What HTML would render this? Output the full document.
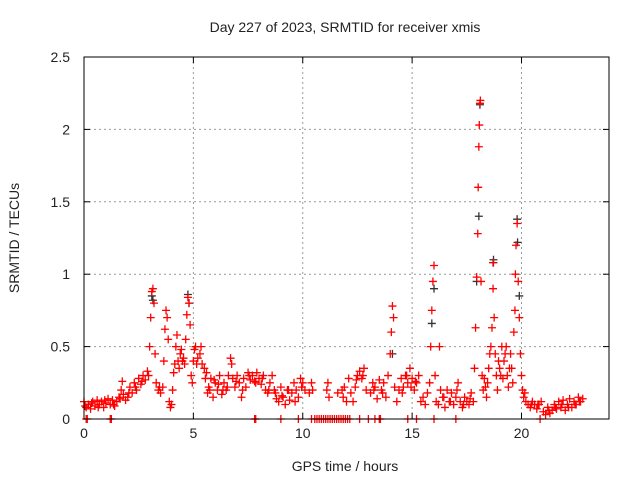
<!DOCTYPE html>
<html><head><meta charset="utf-8"><style>
body{margin:0;background:#fff;}
svg text{font-family:"Liberation Sans",sans-serif;fill:#222;}
</style></head><body>
<svg id="chart" width="640" height="480" xmlns="http://www.w3.org/2000/svg">
<rect width="640" height="480" fill="#fff"/>
<text x="345" y="32" font-size="14" text-anchor="middle">Day 227 of 2023, SRMTID for receiver xmis</text>
<text x="345" y="471" font-size="14" text-anchor="middle">GPS time / hours</text>
<text x="0" y="0" font-size="14" text-anchor="middle" transform="translate(19,238) rotate(-90)">SRMTID / TECUs</text>
<g id="grid"></g>
<g id="ticks"></g>
<g id="blk"></g>
<g id="red"></g>
<rect x="84" y="57" width="525" height="362" fill="none" stroke="#000" stroke-width="1"/>
</svg>
<script>
const xTicks=[0,5,10,15,20];
const yTicks=[0,0.5,1,1.5,2,2.5];
const yTickLabels=["0","0.5","1","1.5","2","2.5"];
const hours=[0,0.1,0.2,0.3,0.4,0.5,0.6,0.7,0.8,0.9,1.0,1.1,1.2,1.3,1.4,1.5,1.6,1.7,1.75,1.8,1.9,2.0,2.1,2.2,2.3,2.4,2.5,2.6,2.7,2.8,2.9,3.0,3.05,3.1,3.15,3.2,3.25,3.3,3.4,3.5,3.6,3.65,3.7,3.75,3.8,3.85,3.9,3.95,4.0,4.05,4.1,4.15,4.2,4.25,4.3,4.35,4.4,4.5,4.6,4.65,4.7,4.75,4.8,4.85,4.9,4.95,5.0,5.05,5.1,5.2,5.3,5.4,5.5,5.6,5.65,5.7,5.8,5.9,6.0,6.1,6.2,6.3,6.4,6.5,6.6,6.7,6.75,6.8,6.9,7.0,7.1,7.2,7.3,7.4,7.5,7.6,7.7,7.8,7.9,8.0,8.1,8.2,8.3,8.4,8.5,8.6,8.7,8.8,8.9,9.0,9.1,9.2,9.3,9.4,9.5,9.6,9.7,9.8,9.9,10.0,10.1,10.3,10.4,10.45,11.1,11.15,11.2,11.6,11.8,11.85,11.9,12.0,12.1,12.2,12.3,12.4,12.5,12.6,12.7,12.8,12.9,13.1,13.2,13.3,13.4,13.5,13.6,13.7,13.8,13.9,14.0,14.05,14.1,14.15,14.2,14.3,14.4,14.5,14.6,14.7,14.8,14.9,15.0,15.1,15.2,15.3,15.4,15.5,15.6,15.7,15.8,15.85,15.9,15.95,16.0,16.05,16.1,16.2,16.25,16.3,16.4,16.5,16.6,16.7,16.8,16.9,17.0,17.1,17.2,17.3,17.4,17.5,17.6,17.7,17.8,17.85,17.9,17.95,18.0,18.02,18.05,18.07,18.1,18.12,18.15,18.2,18.25,18.3,18.4,18.5,18.55,18.6,18.65,18.7,18.72,18.75,18.8,18.85,18.9,19.0,19.1,19.15,19.2,19.3,19.35,19.4,19.5,19.55,19.6,19.65,19.7,19.72,19.75,19.8,19.85,19.9,19.95,20.0,20.05,20.1,20.2,20.3,20.4,20.5,20.6,20.7,20.8,20.9,21.0,21.1,21.2,21.3,21.4,21.5,21.6,21.7,21.8,21.9,22.0,22.1,22.2,22.3,22.4,22.5,22.6,22.7,22.8];
const tec=[.12,.08,.1,.07,.12,.09,.13,.1,.12,.08,.11,.14,.1,.13,.09,.12,.15,.2,.26,.17,.13,.15,.22,.18,.25,.2,.28,.24,.3,.27,.33,.5,.7,.88,.9,.8,.45,.25,.2,.18,.22,.4,.62,.75,.7,.55,.12,.08,.1,.2,.32,.38,.5,.58,.4,.35,.45,.4,.38,.55,.72,.84,.8,.65,.3,.25,.4,.48,.5,.42,.45,.38,.35,.32,.18,.22,.28,.15,.25,.2,.3,.17,.25,.2,.3,.42,.38,.28,.22,.3,.25,.15,.28,.22,.32,.27,.3,.26,.32,.28,.24,.3,.2,.18,.25,.3,.2,.14,.12,.22,.15,.1,.2,.13,.18,.25,.2,.15,.28,.25,.2,.18,.25,.2,.2,.25,.15,.18,.2,.15,.22,.12,.28,.18,.12,.22,.3,.33,.28,.35,.2,.18,.25,.22,.14,.27,.2,.25,.15,.3,.45,.6,.78,.7,.22,.12,.2,.28,.22,.3,.25,.35,.28,.2,.25,.3,.12,.15,.1,.18,.25,.5,.75,.95,1.06,.3,.12,.1,.5,.2,.15,.08,.2,.12,.18,.1,.15,.25,.12,.08,.15,.12,.1,.18,.12,.35,.63,.98,1.28,1.6,1.88,2.03,2.18,2.2,.95,.3,.2,.28,.15,.35,.45,.5,.63,.9,1.08,.7,.45,.3,.2,.35,.5,.28,.4,.5,.3,.22,.45,.35,.25,.6,.75,1.0,1.2,1.35,.95,.7,.45,.3,.2,.15,.12,.1,.08,.12,.1,.07,.1,.12,.05,.03,.08,.04,.06,.1,.07,.12,.08,.13,.06,.1,.14,.08,.12,.1,.15,.12,.14];
const extraHours=[0.05,0.35,0.65,0.95,1.35,1.65,2.05,2.35,2.65,2.95,3.45,4.45,4.55,5.15,5.35,5.55,5.75,5.95,6.15,6.35,6.55,6.95,7.25,7.55,7.85,8.15,8.45,8.75,9.05,9.35,9.65,9.95,12.45,12.75,13.25,13.65,14.55,14.75,14.95,15.15,16.45,16.75,17.05,17.35,17.65,18.35,18.45,18.95,19.05,19.25,19.45,20.15,20.45,20.75,21.25,21.55,21.85,22.15,22.45,22.65];
const extraTec=[.09,.11,.08,.13,.1,.14,.18,.22,.26,.3,.22,.48,.42,.38,.5,.28,.2,.27,.24,.2,.22,.26,.2,.3,.25,.28,.2,.18,.16,.2,.12,.22,.27,.3,.2,.18,.18,.3,.22,.26,.15,.12,.2,.1,.14,.22,.25,.4,.3,.45,.35,.18,.1,.1,.06,.08,.1,.08,.1,.12];
const zeroHours=[0.1,0.15,1.2,1.25,7.8,7.85,9.0,9.8,10.4,10.55,10.65,10.75,10.85,10.95,11.05,11.15,11.25,11.35,11.45,11.55,11.65,11.75,11.85,11.95,12.05,12.15,12.6,13.0,13.3,13.5,13.55,14.8,15.2,16.0,17.0,20.85];
const blkHours=[3.1,3.15,4.75,4.8,14.1,15.9,16.0,17.95,18.05,18.1,18.7,18.72,19.8,19.82,19.9];
const blkTec=[.85,.82,.86,.8,.45,.66,.9,.95,1.4,2.17,1.08,1.1,1.38,1.22,.85];
const X0=84,X1=609,Y0=419,Y1=57;
const sx=h=>X0+(h/24)*(X1-X0);
const sy=v=>Y0-(v/2.5)*(Y0-Y1);
const NS="http://www.w3.org/2000/svg";
function mk(tag,attrs,parent){const e=document.createElementNS(NS,tag);for(const k in attrs)e.setAttribute(k,attrs[k]);parent.appendChild(e);return e;}
const grid=document.getElementById('grid'),ticks=document.getElementById('ticks');
xTicks.forEach(t=>{const x=sx(t);
 if(t>0){const g=mk('line',{x1:x,x2:x,y1:Y1,y2:Y0,stroke:'#999','stroke-dasharray':'2,3'},grid);
 
 }
 mk('line',{x1:x,x2:x,y1:Y0,y2:Y0-6,stroke:'#000'},ticks);
 mk('line',{x1:x,x2:x,y1:Y1,y2:Y1+6,stroke:'#000'},ticks);
 const l=mk('text',{x:x,y:Y0+19,'font-size':14,'text-anchor':'middle'},ticks);l.textContent=t;
 
 
});
yTicks.forEach((t,i)=>{const y=sy(t);
 if(t>0&&t<2.5){const g=mk('line',{x1:X0,x2:X1,y1:y,y2:y,stroke:'#999','stroke-dasharray':'2,3'},grid);
 
 }
 mk('line',{x1:X0,x2:X0+6,y1:y,y2:y,stroke:'#000'},ticks);
 mk('line',{x1:X1,x2:X1-6,y1:y,y2:y,stroke:'#000'},ticks);
 const l=mk('text',{x:X0-14,y:y+5,'font-size':14,'text-anchor':'end'},ticks);l.textContent=yTickLabels[i];
 
 
});
function plus(g,h,v,col,name){const x=sx(h),y=sy(v);
 const p=mk('path',{d:`M${x-4},${y}H${x+4}M${x},${y-4}V${y+4}`,stroke:col,'stroke-width':1.3,fill:'none'},g);
 
 }
const blk=document.getElementById('blk'),red=document.getElementById('red');
blkHours.forEach((h,i)=>plus(blk,h,blkTec[i],'#333','black-point'));
hours.forEach((h,i)=>plus(red,h,tec[i],'#ff0000','red-point'));
extraHours.forEach((h,i)=>plus(red,h,extraTec[i],'#ff0000','red-point'));
zeroHours.forEach(h=>plus(red,h,0,'#ff0000','zero-point'));
</script>
</body></html>
